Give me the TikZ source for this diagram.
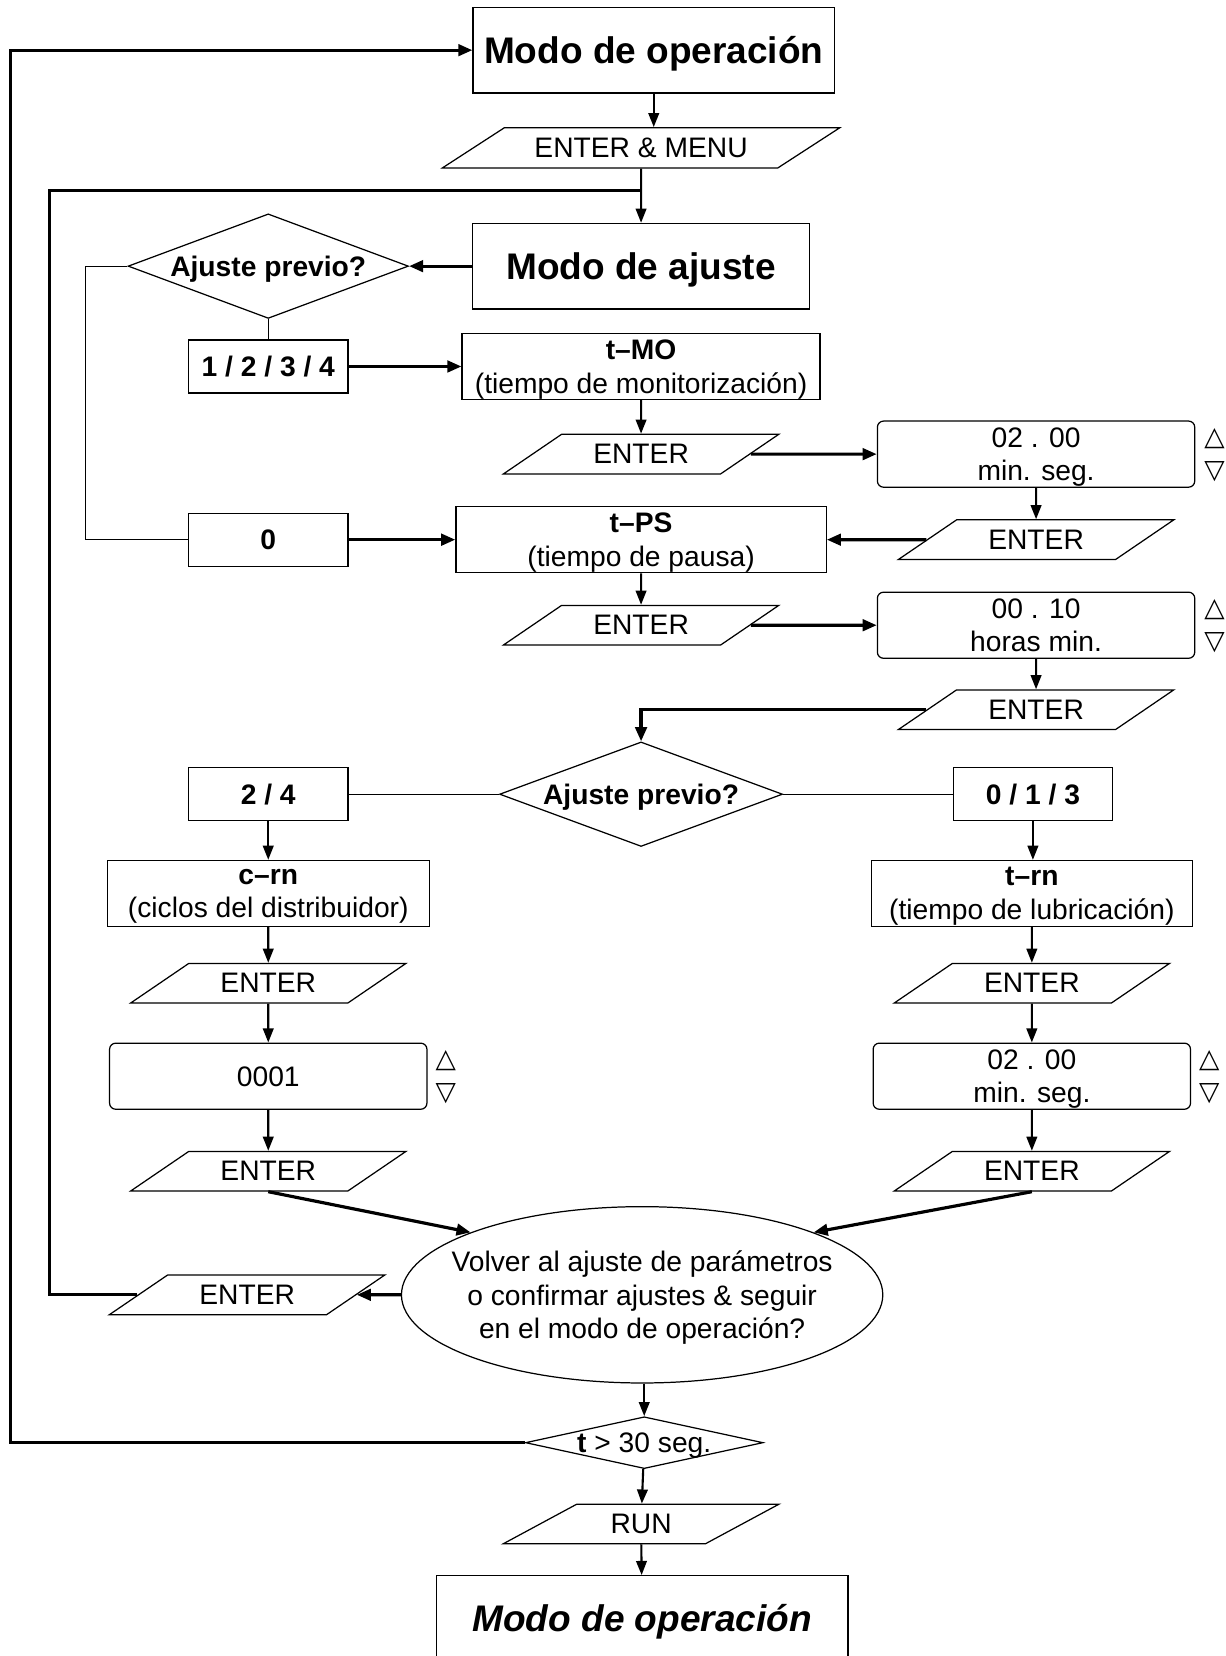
\documentclass[tikz,border=0pt]{standalone}
\usepackage{fontspec}
\setmainfont{Liberation Sans}
\newfontfamily\trifont{DejaVu Sans}
\usepackage{tikz}
\usetikzlibrary{positioning, shapes, arrows.meta, calc}
\usetikzlibrary{shapes.geometric}

\tikzset{
    box/.style={draw, line width=0.7pt, align=center, inner sep=0pt, text depth=0pt, font=\fontsize{16}{19}\selectfont},
    bigbox/.style={box, minimum height=48.5pt, font=\fontsize{21}{25}\selectfont\bfseries},
    optbox/.style={box, minimum width=90.5pt, minimum height=30pt, font=\fontsize{16}{19}\selectfont\bfseries},
    stepbox/.style={box, minimum height=37.5pt, text depth=-1.2pt},
    valbox/.style={box, rounded corners=3.5pt, minimum width=180pt, minimum height=37.5pt, text depth=-1.2pt},
    keyin/.style={box, trapezium, trapezium left angle=29, trapezium right angle=151,
        trapezium stretches=true, minimum width=157pt, minimum height=22.5pt},
    ask/.style={draw, line width=0.7pt, diamond, inner sep=0pt, aspect=2.7, text depth=0pt,
        font=\fontsize{16}{19}\selectfont\bfseries},
    updown/.style={font=\trifont\fontsize{15}{19}\selectfont, align=center, inner sep=0pt},
    flow/.style={-{Triangle[length=8pt,width=6pt]}, line width=1.2pt},
    flowthick/.style={-{Triangle[length=8pt,width=6.5pt]}, line width=1.8pt},
    loopline/.style={line width=1.8pt},
    thinline/.style={line width=0.6pt}
}

\begin{document}
\begin{tikzpicture}[x=0.599pt, y=-0.599pt]
    \useasboundingbox (0,0) rectangle (1160,1568);

    \node[bigbox, minimum width=205pt] (modoOp) at (619,47.5) {Modo de operación};
    \node[keyin, minimum width=226pt, minimum height=22.8pt, trapezium left angle=22, trapezium right angle=158] (enterMenu) at (607,140) {ENTER \& MENU};
    \node[bigbox, minimum width=191pt] (modoAj) at (607,252) {Modo de ajuste};
    \node[ask, minimum width=159pt, minimum height=59.3pt] (ajPrevA) at (254,252) {Ajuste previo?};

    \node[optbox] (optA) at (254,347) {1 / 2 / 3 / 4};
    \node[stepbox, minimum width=203pt] (tMO) at (607,347) {\textbf{t–MO}\\(tiempo de monitorización)};
    \node[keyin] (entMO) at (607,430) {ENTER};
    \node[valbox] (valMO) at (981,430) {02 . 00\\min. seg.};
    \node[updown] (arrMO) at (1150,431) {△\\▽};
    \node[keyin] (entMOb) at (981,511) {ENTER};

    \node[optbox] (optB) at (254,511) {0};
    \node[stepbox, minimum width=210pt] (tPS) at (607,511) {\textbf{t–PS}\\(tiempo de pausa)};
    \node[keyin] (entPS) at (607,592) {ENTER};
    \node[valbox] (valPS) at (981,592) {00 . 10\\horas min.};
    \node[updown] (arrPS) at (1150,593) {△\\▽};
    \node[keyin] (entPSb) at (981,672) {ENTER};

    \node[ask, minimum width=160.5pt, minimum height=59.3pt] (ajPrevB) at (607,752) {Ajuste previo?};
    \node[optbox] (optC) at (254,752) {2 / 4};
    \node[optbox] (optD) at (978,752) {0 / 1 / 3};

    \node[stepbox, minimum width=182.7pt] (cRN) at (254,846) {\textbf{c–rn}\\(ciclos del distribuidor)};
    \node[stepbox, minimum width=182pt] (tRN) at (977,846) {\textbf{t–rn}\\(tiempo de lubricación)};
    \node[keyin] (entCN) at (254,931) {ENTER};
    \node[keyin] (entRN) at (977,931) {ENTER};
    \node[valbox] (valCN) at (254,1019) {0001};
    \node[valbox] (valRN) at (977,1019) {02 . 00\\min. seg.};
    \node[updown] (arrCN) at (422,1020) {△\\▽};
    \node[updown] (arrRN) at (1145,1020) {△\\▽};
    \node[keyin] (entCNb) at (254,1109) {ENTER};
    \node[keyin] (entRNb) at (977,1109) {ENTER};

    \node[draw, line width=0.7pt, ellipse, minimum width=273pt, minimum height=100pt,
        label={[align=center, text depth=-1.2pt, font=\fontsize{16}{19}\selectfont]center:Volver al ajuste de parámetros\\o confirmar ajustes \& seguir\\en el modo de operación?}] (vuelta) at (608,1226) {};
    \node[keyin] (entVuelta) at (234,1226) {ENTER};

    \node[draw, line width=0.7pt, diamond, minimum width=134.8pt, minimum height=29.4pt, inner sep=0pt,
        label={[text depth=0pt, font=\fontsize{16}{19}\selectfont]center:\textbf{t} > 30 seg.}] (tDiam) at (610,1366) {};
    \node[keyin] (run) at (607,1443) {RUN};
    \node[box, minimum width=233.6pt, minimum height=48pt, font=\fontsize{21}{25}\selectfont\bfseries\itshape] (modoFin) at (608,1532) {Modo de operación};

    \coordinate (loopA) at (10,47.5);
    \coordinate (loopB) at (47,180);
    \coordinate (cornerA) at (81,252);

    \draw[flow] (modoOp.south) -- (modoOp.south |- enterMenu.top side);
    \draw[flow] (enterMenu) -- (modoAj);
    \draw[loopline] (entVuelta.left side) -| (loopB) -- (enterMenu.south |- loopB);
    \draw[flowthick] (modoAj) -- (ajPrevA);
    \draw[thinline] (ajPrevA.west) -- (cornerA) |- (optB.west);
    \draw[thinline] (ajPrevA.south) -- (optA.north);
    \draw[flowthick] (optA) -- (tMO);
    \draw[flow] (tMO) -- (entMO);
    \draw[flowthick] (entMO) -- (valMO);
    \draw[flow] (valMO) -- (entMOb);
    \draw[flowthick] (entMOb) -- (tPS);
    \draw[flowthick] (optB) -- (tPS);
    \draw[flow] (tPS) -- (entPS);
    \draw[flowthick] (entPS) -- (valPS);
    \draw[flow] (valPS) -- (entPSb);
    \draw[flowthick] (entPSb.left side) -| (ajPrevB.north);
    \draw[thinline] (ajPrevB) -- (optC);
    \draw[thinline] (ajPrevB) -- (optD);
    \draw[flow] (optC) -- (cRN);
    \draw[flow] (optD.south) -- (optD.south |- tRN.north);
    \draw[flow] (cRN) -- (entCN);
    \draw[flow] (tRN) -- (entRN);
    \draw[flow] (entCN) -- (valCN);
    \draw[flow] (entRN) -- (valRN);
    \draw[flow] (valCN) -- (entCNb);
    \draw[flow] (valRN) -- (entRNb);
    \draw[flowthick] (entCNb.center |- entCNb.bottom side) -- (vuelta.160);
    \draw[flowthick] (entRNb.center |- entRNb.bottom side) -- (vuelta.20);
    \draw[flowthick] (vuelta) -- (entVuelta);
    \draw[flow] (vuelta.south -| tDiam) -- (tDiam);
    \draw[flowthick] (tDiam.west) -| (loopA) -- (modoOp.west);
    \draw[flow] (tDiam) -- (run);
    \draw[flow] (run) -- (modoFin);
\end{tikzpicture}
\end{document}
